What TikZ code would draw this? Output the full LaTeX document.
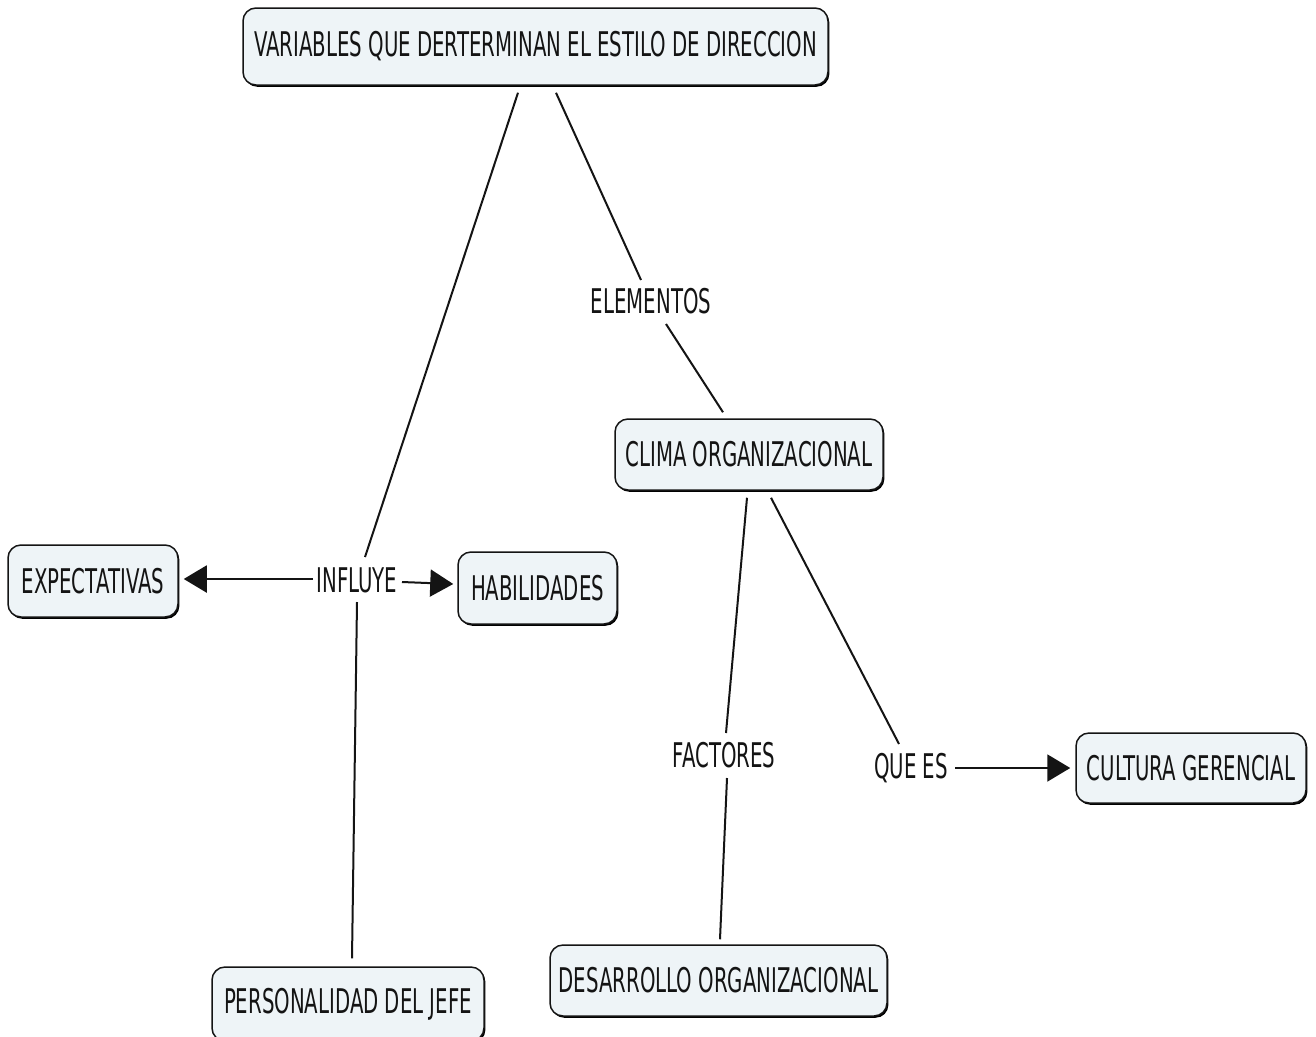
\documentclass[tikz,border=0pt]{standalone}
\usepackage{fontspec}
\setmainfont{DejaVu Sans}[FakeStretch=0.58]
\usetikzlibrary{arrows.meta,calc,shadows}
\definecolor{boxfill}{RGB}{238,244,247}
\definecolor{inkline}{RGB}{20,20,20}
\begin{document}
\begin{tikzpicture}[x=1pt,y=-1pt,
  concept/.style={draw=inkline, line width=1.5pt, fill=boxfill, rounded corners=13pt,
    inner sep=0pt, text=inkline,
    drop shadow={shadow xshift=1.4pt, shadow yshift=-1.8pt, fill=black, opacity=1}},
  linklabel/.style={inner sep=0pt, text=inkline},
  link/.style={line width=2pt, draw=inkline},
  linkarrow/.style={link, -{Triangle[length=23pt,width=27pt]}},
  font=\fontsize{34}{40}\selectfont]
\useasboundingbox (0,0) rectangle (1316,1036);
\fill[white] (0,0) rectangle (1316,1036);
\clip (0,0) rectangle (1316,1036);

% concepts
\node[concept, minimum width=585pt, minimum height=77pt] (top) at (535.5,46.5)
  {VARIABLES QUE DERTERMINAN EL ESTILO DE DIRECCION};
\node[concept, minimum width=268pt, minimum height=71pt] (clima) at (749,454.5)
  {CLIMA ORGANIZACIONAL};
\node[concept, minimum width=170pt, minimum height=72pt] (expect) at (93,581)
  {EXPECTATIVAS};
\node[concept, minimum width=159pt, minimum height=72pt] (habil) at (537.5,588)
  {HABILIDADES};
\node[concept, minimum width=230pt, minimum height=70pt] (cultura) at (1191,768)
  {CULTURA GERENCIAL};
\node[concept, minimum width=337pt, minimum height=71pt] (desarrollo) at (718.5,980.5)
  {DESARROLLO ORGANIZACIONAL};
\node[concept, minimum width=272pt, minimum height=74pt] (jefe) at (348,1004)
  {PERSONALIDAD DEL JEFE};

% linking phrases
\node[linklabel] (elem) at (651,301) {ELEMENTOS};
\node[linklabel] (infl) at (357,580) {INFLUYE};
\node[linklabel] (fact) at (724,755) {FACTORES};
\node[linklabel] (quees) at (911,768) {QUE ES};

% connectors
\draw[link] ($(top.south)+(-17.5,7)$) -- ($(infl.center)+(8,-23)$);
\draw[link] ($(infl.center)+(0,22)$) -- ($(jefe.north)+(4,-8)$);
\draw[linkarrow] ($(infl.center)+(-44,-1)$) -- ($(expect.east)+(5,-2)$);
\draw[linkarrow] ($(infl.center)+(45,2)$) -- ($(habil.west)+(-4,-4)$);
\draw[link] ($(top.south)+(20.5,7)$) -- ($(elem.center)+(-10,-21)$);
\draw[link] ($(elem.center)+(15,23)$) -- ($(clima.north)+(-26,-6)$);
\draw[link] ($(clima.south)+(-2,7)$) -- ($(fact.center)+(2,-22)$);
\draw[link] ($(fact.center)+(3,23)$) -- ($(desarrollo.north)+(1.5,-5)$);
\draw[link] ($(clima.south)+(22,7)$) -- ($(quees.center)+(-12,-24)$);
\draw[linkarrow] ($(quees.center)+(44,0)$) -- ($(cultura.west)+(-5,0)$);
\end{tikzpicture}
\end{document}
